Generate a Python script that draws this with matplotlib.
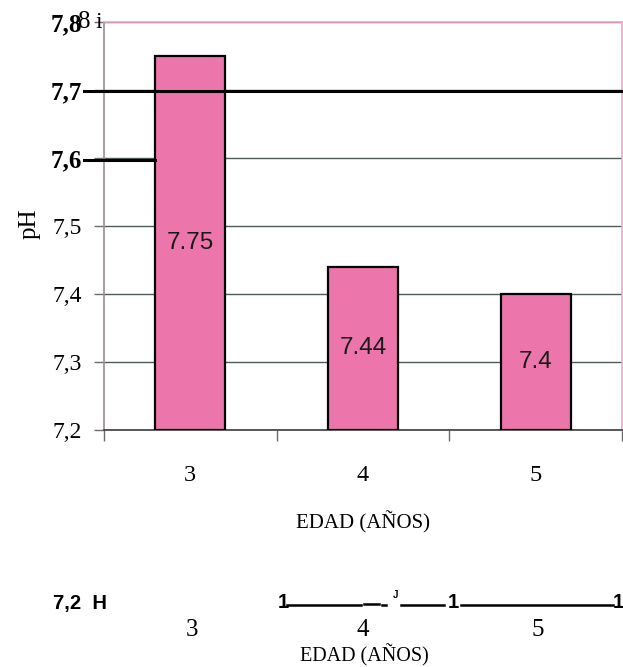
""" Bar chart of pH by age (scanned figure with OCR residue). """

import matplotlib
matplotlib.use("Agg")
import matplotlib.pyplot as plt
from matplotlib.lines import Line2D
import matplotlib.transforms as mtransforms

# data
ages = ["3", "4", "5"]
ph_values = [7.75, 7.44, 7.40]
value_labels = ["7.75", "7.44", "7.4"]
yticks = [7.2, 7.3, 7.4, 7.5, 7.6, 7.7, 7.8]
ytick_labels = ["7,2", "7,3", "7,4", "7,5", "7,6", "7,7", "7,8"]
bold_ticks = ["7,6", "7,7", "7,8"]

# OCR residue lines drawn over the chart: (y value, x start, x end) in axes-x
ocr_lines = [(7.698, -0.039, 1.0), (7.597, -0.039, 0.098)]

W, H = 623, 667
BAR_COLOR = "#EC76AB"
GRID_COLOR = "#4F5B57"
SERIF = "Liberation Serif"
SANS = "Liberation Sans"


def px(x, y):
    return x / W, 1 - y / H


def main():
    fig = plt.figure(figsize=(W / 100, H / 100), dpi=100)
    ax = fig.add_axes([104 / W, 1 - 430 / H, 518 / W, 408 / H])

    xpos = list(range(len(ages)))
    ax.bar(xpos, [v - 7.2 for v in ph_values], bottom=7.2, width=0.405,
           color=BAR_COLOR, edgecolor="black", linewidth=1.6, zorder=3)
    for x, v, lab in zip(xpos, ph_values, value_labels):
        ax.text(x, (7.2 + v) / 2, lab, ha="center", va="center",
                fontsize=17.5, family=SANS, color="#1a1a1a", zorder=4)

    ax.set_xlim(-0.5, 2.5)
    ax.set_ylim(7.2, 7.8)
    ax.yaxis.grid(True, color=GRID_COLOR, linewidth=1.0, zorder=0)
    ax.set_axisbelow(True)

    ax.set_yticks(yticks, labels=ytick_labels)
    ax.tick_params(axis="y", length=7, width=1, color="#6b6b6b", pad=9,
                   labelsize=17)
    for t in ax.get_yticklabels():
        t.set_family(SERIF)
        if t.get_text() in bold_ticks:
            t.set_fontweight("bold")
            t.set_fontsize(18)

    ax.set_xticks(xpos, labels=ages)
    ax.set_xticks([-0.5, 0.5, 1.5, 2.5], minor=True)
    ax.tick_params(axis="x", which="major", length=0, pad=25, labelsize=17.5)
    ax.tick_params(axis="x", which="minor", length=8, width=1, color="#6b6b6b")
    for t in ax.get_xticklabels():
        t.set_family(SERIF)

    ax.set_xlabel("EDAD (AÑOS)", family=SERIF, fontsize=15)
    ax.xaxis.set_label_coords(0.5, (430 - 522) / 408)
    ax.xaxis.label.set_va("center")
    ax.set_ylabel("pH", family=SERIF, fontsize=18)
    ax.yaxis.set_label_coords((30 - 104) / 518, (430 - 224) / 408)
    ax.yaxis.label.set_va("center")

    ax.spines["top"].set_color("#F2A3C9")
    ax.spines["right"].set_color("#F2A3C9")
    ax.spines["left"].set_color("#988C98")
    ax.spines["bottom"].set_color("#3c3c3c")
    for s in ax.spines.values():
        s.set_linewidth(1.2)

    # OCR residue in the chart
    trans = mtransforms.blended_transform_factory(ax.transAxes, ax.transData)
    for y, x0, x1 in ocr_lines:
        ax.plot([x0, x1], [y, y], color="black", linewidth=2.2,
                transform=trans, clip_on=False, zorder=5)
    fig.text(*px(78, 22), "8", family=SERIF, fontsize=18, ha="left", va="center")
    fig.text(*px(95, 22), "i", family=SERIF, fontsize=17, ha="left", va="center")

    # OCR residue below the chart
    fig.text(*px(53, 603), "7,2  H", family=SANS, fontweight="bold",
             fontsize=14.5, ha="left", va="center")
    for x in [283, 453, 618]:
        fig.text(*px(x, 603), "1", family=SANS, fontweight="bold",
                 fontsize=14.5, ha="center", va="center")
    for x0, x1, y in [(287, 361, 605), (364, 379, 604), (382, 386, 605),
                      (401, 444, 605), (461, 613, 605)]:
        (fx0, fy), (fx1, _) = px(x0, y), px(x1, y)
        fig.add_artist(Line2D([fx0, fx1], [fy, fy], color="black",
                              linewidth=1.8, transform=fig.transFigure))
    fig.text(*px(396, 595), "J", family=SANS, fontweight="bold",
             fontsize=7, ha="center", va="center")
    for x, lab in zip([192, 363, 538], ages):
        fig.text(*px(x, 630), lab, family=SERIF, fontsize=18,
                 ha="center", va="center")
    fig.text(*px(364, 655), "EDAD (AÑOS)", family=SERIF, fontsize=14.5,
             ha="center", va="center")

    fig.savefig("out.png", dpi=100)


if __name__ == "__main__":
    main()
